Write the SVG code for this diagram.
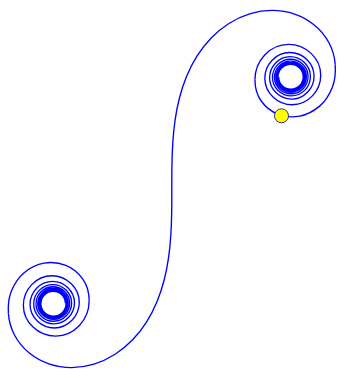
<svg xmlns="http://www.w3.org/2000/svg" xmlns:xlink="http://www.w3.org/1999/xlink" width="342" height="369" viewBox="0 0 342 369">
<style>
.curve{fill:none;stroke:#0000ff;stroke-width:5.9;stroke-linejoin:round}
.dot{fill:#ffff00;stroke:#1a1a7a;stroke-width:0.9}
</style>
<defs>
<path id="coil" d="M343.42,-488.25 C343.4,-570.9 407.7,-642.6 490.3,-642.6 C565.0,-642.6 630.7,-582.3 630.7,-507.6 C630.7,-438.9 574.9,-378.8 506.2,-378.8 C442.3,-378.8 386.5,-430.9 386.5,-494.8 C386.5,-554.9 435.5,-607.0 495.6,-607.0 C552.4,-607.0 601.5,-560.6 601.5,-503.8 C601.5,-449.8 557.4,-403.3 503.4,-403.3 C451.8,-403.3 407.4,-445.4 407.4,-497.0 C407.4,-546.5 447.8,-588.9 497.3,-588.9 C544.9,-588.9 585.6,-550.0 585.6,-502.4 C585.6,-456.4 548.2,-417.4 502.2,-417.4 C457.7,-417.4 420.0,-453.5 420.0,-498.0 C420.0,-541.1 455.1,-577.5 498.2,-577.5 C540.0,-577.5 575.3,-543.5 575.3,-501.7 C575.3,-461.0 542.3,-426.8 501.6,-426.8 C462.0,-426.8 428.7,-458.9 428.7,-498.5 C428.7,-537.2 459.9,-569.5 498.6,-569.5 C536.3,-569.5 567.9,-539.0 567.9,-501.3 C567.9,-464.4 538.1,-433.6 501.2,-433.6 C465.1,-433.6 435.1,-462.8 435.1,-498.9 C435.1,-534.3 463.5,-563.6 498.9,-563.6 C533.6,-563.6 562.3,-535.7 562.3,-501.0 C562.3,-467.0 534.9,-438.9 500.9,-438.9 C467.5,-438.9 440.0,-465.7 440.0,-499.1 C440.0,-531.9 466.3,-558.9 499.1,-558.9 C531.3,-558.9 557.9,-533.0 557.9,-500.8 C557.9,-469.1 532.5,-443.1 500.8,-443.1 C469.6,-443.1 444.0,-468.1 444.0,-499.3 C444.0,-530.0 468.6,-555.1 499.3,-555.1 C529.5,-555.1 554.2,-530.9 554.2,-500.7 C554.2,-470.9 530.5,-446.6 500.7,-446.6 C471.3,-446.6 447.3,-470.0 447.3,-499.4"/>
<path id="core" d="M0,0 C0,-33.33 0,-66.66 0.52,-99.99 C1.05,-133.32 2.10,-166.65 4.19,-199.92 C6.28,-233.19 9.42,-266.40 14.12,-299.40 C18.82,-332.40 25.07,-365.19 33.36,-397.48 C41.65,-429.77 51.98,-461.54 64.73,-492.34 C77.49,-523.14 92.68,-552.97 110.54,-581.11 C128.40,-609.25 148.94,-635.71 172.14,-659.65 C195.33,-683.59 221.20,-704.98 249.34,-722.84 C277.49,-740.70 307.92,-755.02 339.78,-764.82 C371.64,-774.62 404.93,-779.89 438.26,-779.89 C471.59,-779.89 504.96,-774.60 536.50,-763.80 C568.03,-753.00 597.72,-736.69 623.40,-715.44 C649.08,-694.19 670.74,-668.01 686.33,-638.55 C701.93,-609.09 711.43,-576.37 713.53,-543.10"/>
</defs>
<rect width="342" height="369" fill="#ffffff"/>
<g id="spiral" class="curve" transform="translate(171.8 189) scale(0.229)">
<use xlink:href="#core" href="#core"/>
<use xlink:href="#core" href="#core" transform="rotate(180)"/>
<path id="upper-turn" d="M713.53,-543.10 C715.62,-509.83 713.55,-474.24 700.79,-443.44 C688.03,-412.64 671.14,-383.08 645.46,-361.83 C619.78,-340.58 591.89,-324.11 559.05,-318.38 C526.21,-312.65 495.06,-314.09 464.07,-326.36 C433.08,-338.63 408.84,-358.12 389.67,-385.39 C370.50,-412.66 363.12,-444.02 363.12,-477.35"/>
<path id="lower-turn" transform="rotate(180)" d="M713.53,-543.10 C715.62,-509.83 713.18,-476.06 700.42,-445.26 C687.66,-414.46 670.40,-386.71 644.72,-365.46 C619.04,-344.21 590.79,-329.56 557.95,-323.83 C525.11,-318.10 493.60,-321.36 462.61,-333.63 C431.62,-345.90 407.00,-367.20 387.83,-394.47 C368.66,-421.74 360.92,-454.92 360.92,-488.25"/>
<use id="upper-coil" xlink:href="#coil" href="#coil" transform="translate(19.7 10.9)"/>
<use id="lower-coil" xlink:href="#coil" href="#coil" transform="rotate(180) translate(17.5 0)"/>
</g>
<circle id="point" class="dot" cx="281.5" cy="115.8" r="7"/>
</svg>
